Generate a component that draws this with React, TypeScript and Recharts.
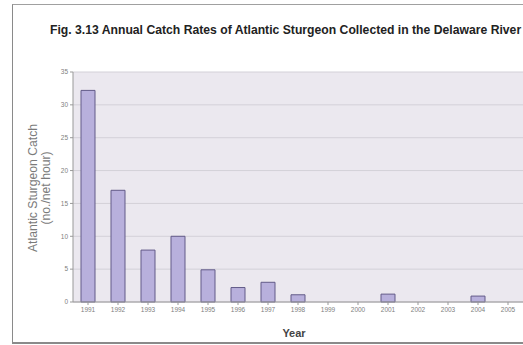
import { BarChart, Bar, XAxis, YAxis, CartesianGrid } from 'recharts'

// ---------------------------------------------------------------------------
// Data
// ---------------------------------------------------------------------------

const years = [
  '1991', '1992', '1993', '1994', '1995', '1996', '1997', '1998',
  '1999', '2000', '2001', '2002', '2003', '2004', '2005',
]

// catch per net hour
const catchRates = [32.2, 17, 7.9, 10, 4.9, 2.2, 3.0, 1.1, 0, 0, 1.2, 0, 0, 0.9, 0]

const yTicks = [0, 5, 10, 15, 20, 25, 30, 35]

const data = years.map((year, i) => ({ year, rate: catchRates[i] }))

const W = 523
const H = 345

export default function App() {
  return (
    <div style={{ position: 'fixed', left: 0, top: 0, width: W, height: H, background: '#fff', overflow: 'hidden' }}>
      {/* outer frame */}
      <div
        style={{
          position: 'absolute',
          left: 12,
          top: 4,
          width: W,
          height: 337,
          borderLeft: '1px solid #8a8a8a',
          borderTop: '1px solid #a0a0a0',
          borderBottom: '2px solid #8a8a8a',
        }}
      />

      <div
        style={{
          position: 'absolute',
          left: 50,
          top: 23,
          whiteSpace: 'nowrap',
          fontFamily: 'Arial, "Liberation Sans", sans-serif',
          fontWeight: 'bold',
          fontSize: 12.2,
          color: '#222',
        }}
      >
        Fig. 3.13 Annual Catch Rates of Atlantic Sturgeon Collected in the Delaware River
      </div>

      <BarChart
        width={W}
        height={H}
        data={data}
        margin={{ top: 72, right: 0, left: 0, bottom: 0 }}
        barCategoryGap={0}
        style={{ position: 'absolute', left: 0, top: 0 }}
      >
        <CartesianGrid vertical={false} stroke="#d3d0d8" fill="#ebe8ef" />
        <XAxis
          dataKey="year"
          height={43}
          interval={0}
          stroke="#999"
          tickSize={3}
          tick={{ fontSize: 6.5, fill: '#808080', fontFamily: 'Arial, sans-serif' }}
        />
        <YAxis
          width={73}
          domain={[0, 35]}
          ticks={yTicks}
          stroke="#999"
          tickSize={3}
          tick={{ fontSize: 6.5, fill: '#808080', fontFamily: 'Arial, sans-serif' }}
        />
        <Bar
          dataKey="rate"
          barSize={14}
          fill="#b8b0dc"
          stroke="#625a88"
          strokeWidth={1}
          isAnimationActive={false}
        />
      </BarChart>

      {/* y-axis title */}
      <div
        style={{
          position: 'absolute',
          left: 40,
          top: 188,
          transform: 'translate(-50%, -50%) rotate(-90deg)',
          whiteSpace: 'nowrap',
          textAlign: 'center',
          fontFamily: 'Arial, "Liberation Sans", sans-serif',
          fontSize: 12.2,
          lineHeight: '13px',
          color: '#7a7a7a',
        }}
      >
        Atlantic Sturgeon Catch
        <br />
        (no./net hour)
      </div>

      <div
        style={{
          position: 'absolute',
          left: 294,
          top: 333,
          transform: 'translate(-50%, -50%)',
          fontFamily: 'Arial, "Liberation Sans", sans-serif',
          fontWeight: 'bold',
          fontSize: 11,
          color: '#444',
        }}
      >
        Year
      </div>
    </div>
  )
}
